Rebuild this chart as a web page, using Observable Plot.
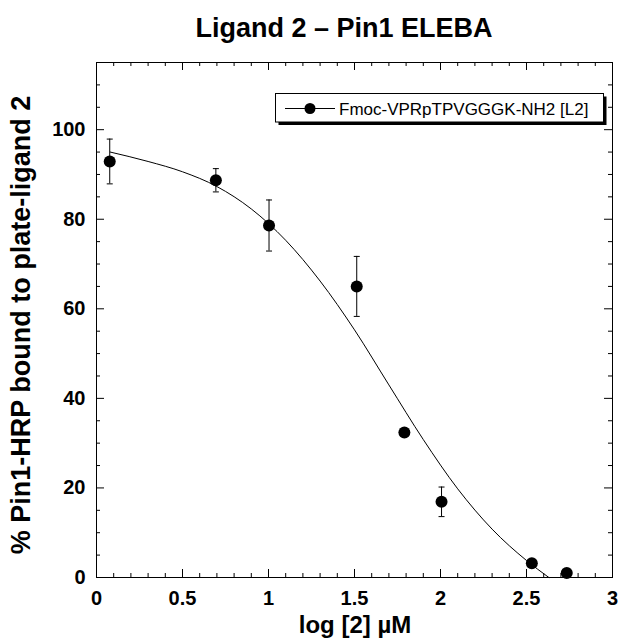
<!DOCTYPE html>
<html>
<head>
<meta charset="utf-8">
<script src="https://cdn.jsdelivr.net/npm/d3@7"></script>
<script src="https://cdn.jsdelivr.net/npm/@observablehq/plot@0.6"></script>
<style>
  html, body { margin: 0; padding: 0; background: #fff; }
  #chart { position: relative; width: 619px; height: 639px; }
  svg { font-family: "Liberation Sans", Arial, sans-serif; }
</style>
</head>
<body>
<div id="chart"></div>
<script>
// ---- data ----
const titleText = "Ligand 2 \u2013 Pin1 ELEBA";
const xLabel = "log [2] \u00b5M";
const yLabel = "% Pin1-HRP bound to plate-ligand 2";
const seriesName = "Fmoc-VPRpTPVGGGK-NH2 [L2]";

const logConc      = [0.077, 0.694, 1.003, 1.513, 1.790, 2.006, 2.531, 2.734];
const percentBound = [92.9, 88.7, 78.6, 65.0, 32.4, 16.9, 3.2, 1.0];
const errorSD      = [5.0, 2.6, 5.7, 6.7, 0, 3.3, 0, 0];

// fitted curve
const fitX = [0.08, 0.3, 0.5, 0.7, 0.9, 1.1, 1.3, 1.5, 1.7, 1.9, 2.1, 2.3, 2.5, 2.63];
const fitY = [95.0, 92.9, 90.6, 87.3, 82.3, 75.3, 66.2, 55.3, 43.0, 30.8, 19.8, 10.8, 3.8, 0];

const xMajorTicks = [0, 0.5, 1, 1.5, 2, 2.5, 3];
const xMinorTicks = [0.1,0.2,0.3,0.4,0.6,0.7,0.8,0.9,1.1,1.2,1.3,1.4,1.6,1.7,1.8,1.9,2.1,2.2,2.3,2.4,2.6,2.7,2.8,2.9];
const yMajorTicks = [0, 20, 40, 60, 80, 100];
const yMinorTicks = [5,10,15,25,30,35,45,50,55,65,70,75,85,90,95,105,110];

// ---- build tables ----
const points = logConc.map((x, i) => ({x, y: percentBound[i], lo: percentBound[i] - errorSD[i], hi: percentBound[i] + errorSD[i], e: errorSD[i]}));
const errPts = points.filter(d => d.e > 0);
const fit = fitX.map((x, i) => ({x, y: fitY[i]}));

const rad = size => Math.sqrt(size / Math.PI);
const capSymbol = {draw(ctx, s) { const r = rad(s); ctx.moveTo(-r, 0); ctx.lineTo(r, 0); }};
const fmt = d => String(d);

const W = 619, H = 639;
const mL = 96, mR = 7, mT = 62, mB = 62;
const minorLen = 4, majorLen = 8;
const X0 = 0, X1 = 3, Y0 = 0, Y1 = 115;
// pixel tick length expressed in scale units
const pxToX = px => px * (X1 - X0) / (W - mL - mR);
const pxToY = px => px * (Y1 - Y0) / (H - mT - mB);

const tickStyle = {stroke: "black", strokeWidth: 1};
function ticksX(ticks, len) {
  const l = pxToY(len);
  return [
    Plot.ruleX(ticks, {x: d => d, y1: () => Y0, y2: () => Y0 + l, ...tickStyle}),
    Plot.ruleX(ticks, {x: d => d, y1: () => Y1 - l, y2: () => Y1, ...tickStyle})
  ];
}
function ticksY(ticks, len) {
  const l = pxToX(len);
  return [
    Plot.ruleY(ticks, {y: d => d, x1: () => X0, x2: () => X0 + l, ...tickStyle}),
    Plot.ruleY(ticks, {y: d => d, x1: () => X1 - l, x2: () => X1, ...tickStyle})
  ];
}

const plot = Plot.plot({
  width: W, height: H,
  marginLeft: mL, marginRight: mR, marginTop: mT, marginBottom: mB,
  x: {domain: [X0, X1]},
  y: {domain: [Y0, Y1]},
  style: {fontFamily: "'Liberation Sans', Arial, sans-serif", background: "white", color: "black"},
  marks: [
    Plot.frame({stroke: "black", fill: "none", strokeWidth: 1}),
    ...ticksX(xMinorTicks, minorLen),
    ...ticksX(xMajorTicks, majorLen),
    ...ticksY(yMinorTicks, minorLen),
    ...ticksY(yMajorTicks, majorLen),
    // tick labels
    Plot.axisX(xMajorTicks, {anchor: "bottom", tickSize: 0, tickPadding: 13, tickFormat: fmt, fontSize: 20, fontWeight: "bold", label: null}),
    Plot.axisY(yMajorTicks, {anchor: "left", tickSize: 0, tickPadding: 11, tickFormat: fmt, fontSize: 20, fontWeight: "bold", label: null}),
    // fitted curve
    Plot.line(fit, {x: "x", y: "y", curve: "monotone-x", stroke: "black", strokeWidth: 1}),
    // error bars
    Plot.ruleX(errPts, {x: "x", y1: "lo", y2: "hi", stroke: "black", strokeWidth: 1}),
    Plot.dot(errPts, {x: "x", y: "lo", symbol: capSymbol, r: 3, stroke: "black", fill: "none", strokeWidth: 1}),
    Plot.dot(errPts, {x: "x", y: "hi", symbol: capSymbol, r: 3, stroke: "black", fill: "none", strokeWidth: 1}),
    // data points
    Plot.dot(points, {x: "x", y: "y", r: 6, fill: "black", stroke: "none"})
  ]
});

document.getElementById("chart").appendChild(plot);

// ---- titles and legend ----
const svg = d3.select(plot);
const font = "'Liberation Sans', Arial, sans-serif";

svg.append("text")
  .attr("x", 344).attr("y", 37)
  .attr("text-anchor", "middle")
  .attr("font-family", font).attr("font-size", 27).attr("font-weight", "bold")
  .attr("fill", "black")
  .text(titleText);

svg.append("text")
  .attr("x", 355).attr("y", 633)
  .attr("text-anchor", "middle")
  .attr("font-family", font).attr("font-size", 24).attr("font-weight", "bold")
  .attr("fill", "black")
  .text(xLabel);

svg.append("text")
  .attr("transform", "translate(30,325) rotate(-90)")
  .attr("text-anchor", "middle")
  .attr("font-family", font).attr("font-size", 27).attr("font-weight", "bold")
  .attr("fill", "black")
  .text(yLabel);

const lg = svg.append("g");
lg.append("rect").attr("x", 278.5).attr("y", 96.5).attr("width", 328).attr("height", 28.5).attr("fill", "black");
lg.append("rect").attr("x", 275.5).attr("y", 93.5).attr("width", 328).attr("height", 28.5).attr("fill", "white").attr("stroke", "black").attr("stroke-width", 1);
lg.append("line").attr("x1", 285).attr("x2", 335).attr("y1", 108.5).attr("y2", 108.5).attr("stroke", "black").attr("stroke-width", 1);
lg.append("circle").attr("cx", 310).attr("cy", 108.5).attr("r", 5.5).attr("fill", "black");
lg.append("text")
  .attr("x", 339).attr("y", 114.5)
  .attr("text-anchor", "start")
  .attr("font-family", font).attr("font-size", 17)
  .attr("fill", "black")
  .text(seriesName);
</script>
</body>
</html>
